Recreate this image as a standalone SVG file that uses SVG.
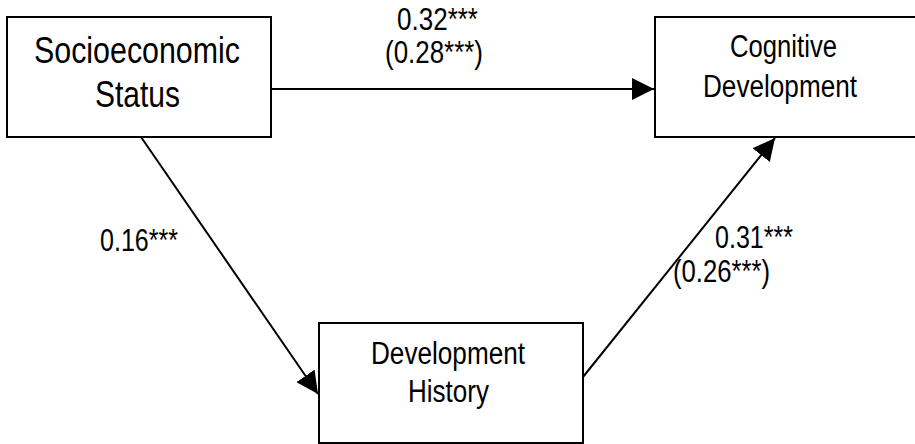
<svg xmlns="http://www.w3.org/2000/svg" width="915" height="444" viewBox="0 0 915 444">
<style>
.box{fill:#fff;stroke:#000;stroke-width:2}
.t{font-family:"Liberation Sans",Arial,sans-serif;fill:#000}
.n{font-size:31px}
.big{font-size:36px}
.lbl{font-size:31px}
.edge{stroke:#000;stroke-width:2;fill:none}
</style>
<defs>
<marker id="ah" markerUnits="userSpaceOnUse" markerWidth="22" markerHeight="22" viewBox="0 0 20 20" refX="20" refY="10" orient="auto">
<path d="M0,0 L20,10 L0,20 z" fill="#000"/>
</marker>
</defs>
<rect width="915" height="444" fill="#fff"/>
<g id="ses">
<rect class="box" x="7" y="17" width="264" height="120"/>
<text class="t big" x="34" y="63" textLength="206" lengthAdjust="spacingAndGlyphs">Socioeconomic</text>
<text class="t big" x="95" y="107" textLength="85" lengthAdjust="spacingAndGlyphs">Status</text>
</g>
<g id="cog">
<rect class="box" x="655" y="17" width="280" height="120"/>
<text class="t n" x="730" y="57" textLength="107" lengthAdjust="spacingAndGlyphs">Cognitive</text>
<text class="t n" x="703" y="97" textLength="154" lengthAdjust="spacingAndGlyphs">Development</text>
</g>
<g id="dh">
<rect class="box" x="319" y="323" width="264" height="120"/>
<text class="t n" x="371" y="364" textLength="154" lengthAdjust="spacingAndGlyphs">Development</text>
<text class="t n" x="408" y="402" textLength="81" lengthAdjust="spacingAndGlyphs">History</text>
</g>
<g id="connectors">
<line class="edge" x1="271" y1="89" x2="654" y2="89" marker-end="url(#ah)"/>
<line class="edge" x1="141" y1="137" x2="318" y2="394" marker-end="url(#ah)"/>
<line class="edge" x1="583" y1="377" x2="775" y2="138" marker-end="url(#ah)"/>
</g>
<g id="labels">
<text class="t lbl" x="397" y="30" textLength="81" lengthAdjust="spacingAndGlyphs">0.32***</text>
<text class="t lbl" x="385" y="63" textLength="98" lengthAdjust="spacingAndGlyphs">(0.28***)</text>
<text class="t lbl" x="100" y="251" textLength="78" lengthAdjust="spacingAndGlyphs">0.16***</text>
<text class="t lbl" x="715" y="248" textLength="78" lengthAdjust="spacingAndGlyphs">0.31***</text>
<text class="t lbl" x="673" y="282" textLength="97" lengthAdjust="spacingAndGlyphs">(0.26***)</text>
</g>
</svg>
